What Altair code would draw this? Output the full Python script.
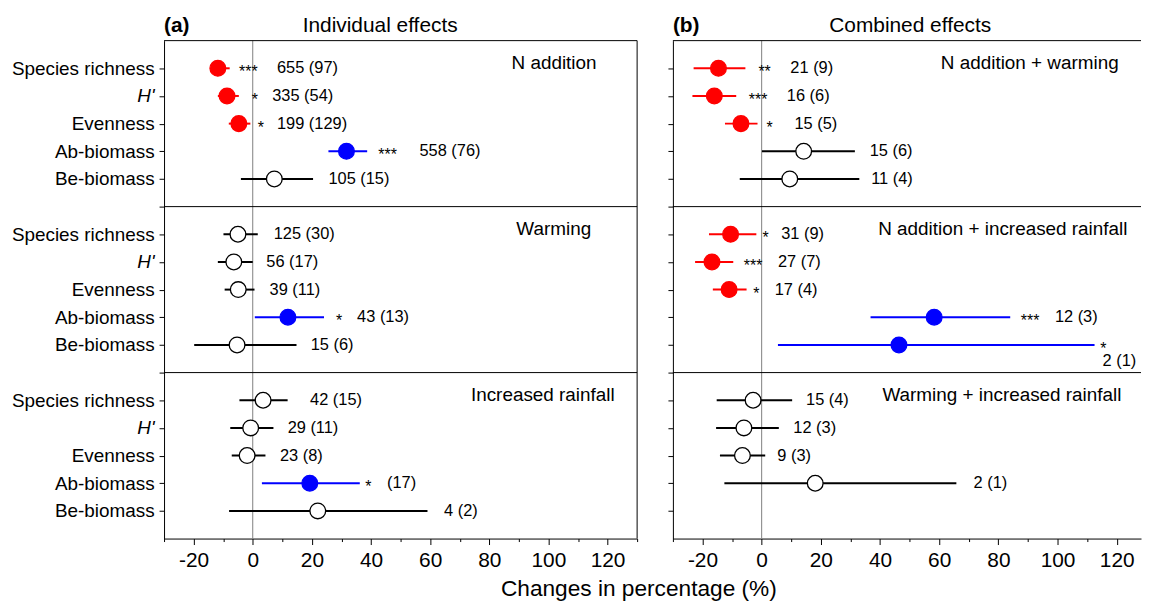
import json
import altair as alt
import pandas as pd

FONT = "Liberation Sans"

metrics = ["Species richness", "H'", "Evenness", "Ab-biomass", "Be-biomass"]

# ---------- (a) Individual effects ----------
groups_a = ["N addition", "Warming", "Increased rainfall"]
group_x_a = [101.9, 101.8, 98.1]
mean_a = [
    [-11.8, -8.7, -4.7, 31.7, 7.3],
    [-5.0, -6.4, -4.9, 11.9, -5.3],
    [3.5, -0.7, -1.9, 19.3, 22.0],
]
lo_a = [
    [-14.2, -11.8, -8.1, 25.6, -4.0],
    [-9.9, -11.8, -9.5, 0.7, -19.8],
    [-4.5, -7.6, -7.1, 3.1, -8.0],
]
hi_a = [
    [-7.8, -4.7, -0.8, 38.7, 20.4],
    [1.7, 0.0, 0.6, 24.1, 14.8],
    [11.8, 7.0, 4.3, 36.2, 59.1],
]
stars_a = [
    ["***", "*", "*", "***", ""],
    ["", "", "", "*", ""],
    ["", "", "", "*", ""],
]
star_x_a = [
    [-1.5, 0.7, 2.7, 45.6, None],
    [None, None, None, 29.2, None],
    [None, None, None, 39.1, None],
]
counts_a = [
    ["655 (97)", "335 (54)", "199 (129)", "558 (76)", "105 (15)"],
    ["125 (30)", "56 (17)", "39 (11)", "43 (13)", "15 (6)"],
    ["42 (15)", "29 (11)", "23 (8)", "(17)", "4 (2)"],
]
count_x_a = [
    [8.2, 6.6, 8.2, 56.4, 25.6],
    [7.1, 4.6, 5.7, 35.3, 19.6],
    [19.4, 11.8, 9.2, 45.4, 64.7],
]
count_dy_a = [
    [0, 0, 0, 0, 0],
    [0, 0, 0, 0, 0],
    [0, 0, 0, 0, 0],
]

# ---------- (b) Combined effects ----------
groups_b = ["N addition + warming", "N addition + increased rainfall", "Warming + increased rainfall"]
group_x_b = [90.6, 81.5, 81.2]
mean_b = [
    [-14.6, -16.0, -7.0, 14.2, 9.5],
    [-10.5, -16.8, -11.0, 58.3, 46.4],
    [-2.9, -6.0, -6.5, 18.1, None],
]
lo_b = [
    [-23.0, -23.4, -12.4, 0.1, -7.4],
    [-17.8, -22.5, -16.5, 36.8, 5.5],
    [-15.2, -15.4, -14.1, -12.6, None],
]
hi_b = [
    [-5.5, -8.6, -1.4, 31.5, 33.0],
    [-1.8, -9.6, -5.1, 84.0, 112.5],
    [10.3, 5.8, 1.2, 65.8, None],
]
stars_b = [
    ["**", "***", "*", "", ""],
    ["*", "***", "*", "***", "*"],
    ["", "", "", "", ""],
]
star_x_b = [
    [1.0, -1.2, 2.7, None, None],
    [1.3, -2.9, -1.8, 90.7, 115.5],
    [None, None, None, None, None],
]
counts_b = [
    ["21 (9)", "16 (6)", "15 (5)", "15 (6)", "11 (4)"],
    ["31 (9)", "27 (7)", "17 (4)", "12 (3)", "2 (1)"],
    ["15 (4)", "12 (3)", "9 (3)", "2 (1)", ""],
]
count_x_b = [
    [9.7, 8.5, 11.1, 36.5, 37.0],
    [6.6, 5.5, 4.4, 99.1, 115.2],
    [15.0, 10.7, 5.3, 71.6, None],
]
count_dy_b = [
    [0, 0, 0, 0, 0],
    [0, 0, 0, 0, 0.6],
    [0, 0, 0, 0, 0],
]

RED = "#ff0000"
BLUE = "#0000ff"


def panel(means, los, his, stars, star_x, counts, count_x, count_dy,
          groups, group_x, xmax, width, show_labels, tag, heading, heading_x,
          right_border):
    pts, st, ct = [], [], []
    for r in range(3):
        for i in range(5):
            y = r * 6 + i + 1
            m = means[r][i]
            if m is not None:
                if stars[r][i]:
                    cls = "neg" if m < 0 else "pos"
                else:
                    cls = "ns"
                pts.append({"m": m, "lo": los[r][i], "hi": his[r][i], "y": y, "cls": cls})
            if stars[r][i] and star_x[r][i] is not None:
                st.append({"x": star_x[r][i], "y": y, "t": stars[r][i]})
            if counts[r][i] and count_x[r][i] is not None:
                ct.append({"x": count_x[r][i], "y": y + count_dy[r][i], "t": counts[r][i]})
    df_pts = pd.DataFrame(pts)
    df_st = pd.DataFrame(st) if st else pd.DataFrame({"x": [], "y": [], "t": []})
    df_ct = pd.DataFrame(ct)
    df_grp = pd.DataFrame({"x": group_x, "y": [r * 6 + 0.8 for r in range(3)], "t": groups})

    xs = alt.Scale(domain=[-30, xmax], nice=False, zero=False)
    ys = alt.Scale(domain=[0, 18], reverse=True, nice=False, zero=False)

    xticks = [v for v in range(-30, 131, 10) if v <= xmax]
    xaxis = alt.Axis(
        values=xticks, title=None, grid=False,
        labelExpr="datum.value % 20 == 0 ? '' + datum.value : ''",
        tickSize=alt.condition("datum.value % 20 == 0", alt.value(6), alt.value(3)),
        labelFontSize=21, labelFont=FONT, labelColor="black", labelPadding=5,
        labelOverlap=False, labelFlush=False,
        domainColor="black", tickColor="black", domainWidth=1, tickWidth=1,
    )
    names_js = json.dumps(metrics)
    if show_labels:
        yaxis = alt.Axis(
            values=list(range(1, 18)), title=None, grid=False,
            labelExpr=f"datum.value % 6 == 0 ? '' : {names_js}[(datum.value % 6) - 1]",
            labelFontStyle=alt.condition("datum.value % 6 == 2", alt.value("italic"), alt.value("normal")),
            labelFontSize=19, labelFont=FONT, labelColor="black", labelPadding=5,
            labelOverlap=False, tickSize=5, minExtent=154,
            domainColor="black", tickColor="black", domainWidth=1, tickWidth=1,
        )
    else:
        yaxis = alt.Axis(
            values=list(range(1, 18)), title=None, grid=False, labels=False,
            tickSize=5, minExtent=6,
            domainColor="black", tickColor="black", domainWidth=1, tickWidth=1,
        )

    line_scale = alt.Scale(domain=["neg", "pos", "ns"], range=[RED, BLUE, "black"])
    fill_scale = alt.Scale(domain=["neg", "pos", "ns"], range=[RED, BLUE, "white"])

    def X(f):
        return alt.X(f, scale=xs, axis=xaxis)

    def Y(f):
        return alt.Y(f, scale=ys, axis=yaxis)

    zero = alt.Chart(pd.DataFrame({"x": [0]})).mark_rule(color="#7f7f7f", strokeWidth=1).encode(
        x=X("x:Q"))
    seps = alt.Chart(pd.DataFrame({"y": [0, 6, 12]})).mark_rule(color="black", strokeWidth=1).encode(
        y=Y("y:Q"))
    bars = alt.Chart(df_pts).mark_rule(strokeWidth=2).encode(
        x=X("lo:Q"), x2="hi:Q", y=Y("y:Q"),
        color=alt.Color("cls:N", scale=line_scale, legend=None))
    dots = alt.Chart(df_pts).mark_point(shape="circle", size=250, strokeWidth=1.3, opacity=1, filled=False).encode(
        x=X("m:Q"), y=Y("y:Q"),
        fill=alt.Fill("cls:N", scale=fill_scale, legend=None),
        stroke=alt.Stroke("cls:N", scale=line_scale, legend=None))
    star_txt = alt.Chart(df_st).mark_text(fontSize=16, font=FONT, baseline="alphabetic", dy=9,
                                          align="center", color="black").encode(
        x=X("x:Q"), y=Y("y:Q"), text="t:N")
    cnt_txt = alt.Chart(df_ct).mark_text(fontSize=16.5, font=FONT, baseline="middle",
                                         align="left", color="black").encode(
        x=X("x:Q"), y=Y("y:Q"), text="t:N")
    grp_txt = alt.Chart(df_grp).mark_text(fontSize=19, font=FONT, baseline="middle",
                                          align="center", color="black").encode(
        x=X("x:Q"), y=Y("y:Q"), text="t:N")
    tag_txt = alt.Chart(pd.DataFrame({"x": [-30], "t": [tag]})).mark_text(
        fontSize=21, font=FONT, fontWeight="bold", baseline="alphabetic", align="left", color="black").encode(
        x=X("x:Q"), y=alt.value(-9), text="t:N")
    head_txt = alt.Chart(pd.DataFrame({"x": [heading_x], "t": [heading]})).mark_text(
        fontSize=21, font=FONT, baseline="alphabetic", align="center", color="black").encode(
        x=X("x:Q"), y=alt.value(-9), text="t:N")

    layers = [zero, seps, bars, dots, star_txt, cnt_txt, grp_txt, tag_txt, head_txt]
    if right_border:
        rb = alt.Chart(pd.DataFrame({"x": [xmax]})).mark_rule(color="black", strokeWidth=1).encode(
            x=X("x:Q"))
        layers.append(rb)
    return alt.layer(*layers).properties(width=width, height=501)


left = panel(mean_a, lo_a, hi_a, stars_a, star_x_a, counts_a, count_x_a, count_dy_a,
             groups_a, group_x_a, 130, 476, True, "(a)", "Individual effects", 43.1, True)
right = panel(mean_b, lo_b, hi_b, stars_b, star_x_b, counts_b, count_x_b, count_dy_b,
              groups_b, group_x_b, 128.2, 471, False, "(b)", "Combined effects", 50.2, False)

chart = alt.hconcat(left, right, spacing=36, bounds="flush").properties(
    title=alt.TitleParams("Changes in percentage (%)", orient="bottom", anchor="start", frame="bounds",
                          dx=493, offset=8, fontSize=22.8, fontWeight="normal", font=FONT, color="black"),
    padding={"left": 3, "top": 5, "right": 0, "bottom": 0},
).configure(font=FONT).configure_view(stroke=None)

chart.save("out.html", embed_options={"renderer": "svg", "actions": False})
